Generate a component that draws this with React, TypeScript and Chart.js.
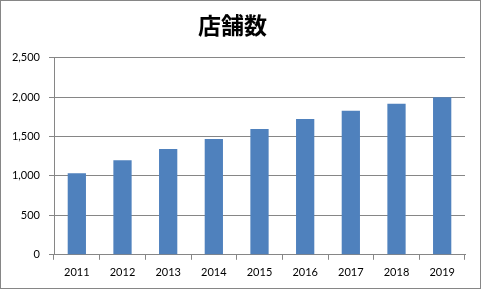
import React, { useEffect, useRef } from "react";
import { Chart, registerables } from "chart.js";

Chart.register(...registerables);

const title = "店舗数";
const years = ["2011", "2012", "2013", "2014", "2015", "2016", "2017", "2018", "2019"];
const storeCounts = [1035, 1200, 1341, 1468, 1596, 1723, 1825, 1914, 1998];
const yMax = 2500;
const yStep = 500;

const borderPlugin = {
  id: "outerBorder",
  afterDraw(chart: any) {
    const ctx = chart.ctx;
    ctx.save();
    ctx.strokeStyle = "#868686";
    ctx.lineWidth = 1;
    ctx.strokeRect(0.5, 0.5, chart.width - 1, chart.height - 1);
    ctx.restore();
  },
};

export default function App() {
  const ref = useRef<HTMLCanvasElement | null>(null);
  useEffect(() => {
    document.body.style.margin = "0";
    const font = "Lato, 'Liberation Sans', sans-serif";
    const chart = new Chart(ref.current!, {
      type: "bar",
      data: {
        labels: years,
        datasets: [
          {
            data: storeCounts,
            backgroundColor: "#4F81BD",
            barPercentage: 0.4,
            categoryPercentage: 1,
          },
        ],
      },
      options: {
        animation: false,
        responsive: false,
        maintainAspectRatio: false,
        layout: { padding: { top: 0, right: 16, bottom: 4, left: 0 } },
        plugins: {
          legend: { display: false },
          tooltip: { enabled: false },
          title: {
            display: true,
            text: title,
            color: "#000",
            font: { family: "'Noto Sans CJK JP', sans-serif", size: 23, weight: "bold" },
            padding: { top: 11, bottom: 19 },
          },
        },
        scales: {
          x: {
            grid: {
              offset: true,
              drawOnChartArea: false,
              drawTicks: true,
              tickLength: 5,
              color: "#868686",
            },
            border: { display: true, color: "#868686" },
            ticks: { color: "#000", font: { family: font, size: 11 }, padding: 6 },
          },
          y: {
            min: 0,
            max: yMax,
            afterFit(scale: any) {
              scale.width = 54;
            },
            grid: { color: "#868686", tickLength: 5 },
            border: { display: true, color: "#868686" },
            ticks: {
              stepSize: yStep,
              color: "#000",
              font: { family: font, size: 11 },
              padding: 9,
              callback: (v: any) => Number(v).toLocaleString("en-US"),
            },
          },
        },
      },
      plugins: [borderPlugin],
    });
    return () => chart.destroy();
  }, []);
  return (
    <div style={{ width: 481, height: 289, background: "#fff" }}>
      <canvas ref={ref} width={481} height={289} style={{ display: "block" }} />
    </div>
  );
}
